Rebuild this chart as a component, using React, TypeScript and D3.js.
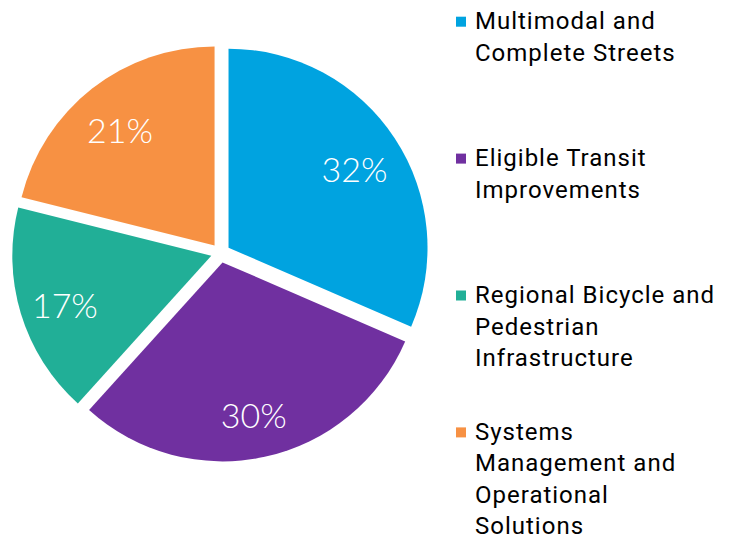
import React from "react";
import * as d3 from "d3";

const categories = [
  "Multimodal and Complete Streets",
  "Eligible Transit Improvements",
  "Regional Bicycle and Pedestrian Infrastructure",
  "Systems Management and Operational Solutions",
];
const legendLines = [
  ["Multimodal and", "Complete Streets"],
  ["Eligible Transit", "Improvements"],
  ["Regional Bicycle and", "Pedestrian", "Infrastructure"],
  ["Systems", "Management and", "Operational", "Solutions"],
];
const values = [31.5, 30.2, 17.2, 21.1];
const labels = ["32%", "30%", "17%", "21%"];
const colors = ["#00A3E0", "#7030A0", "#21AF97", "#F79143"];

const W = 733;
const H = 539;
const cx = 220.5;
const cy = 253;
const R = 199;
const explode = 9.6;
const labelR = 152;

export default function App() {
  const pie = d3
    .pie<number>()
    .sort(null)
    .value((d) => d)
    .startAngle(0)
    .endAngle(2 * Math.PI);
  const arcs = pie(values);
  const arcGen = d3.arc<d3.PieArcDatum<number>>().innerRadius(0).outerRadius(R);
  const labelArc = d3
    .arc<d3.PieArcDatum<number>>()
    .innerRadius(labelR)
    .outerRadius(labelR);

  const legendX = 456;
  const legendTextX = 475;
  const legendTop = 29.3;
  const itemGap = 136.9;
  const lineH = 31.4;

  return (
    <svg
      width={W}
      height={H}
      style={{ position: "absolute", left: 0, top: 0, background: "#fff" }}
    >
      <g transform={`translate(${cx},${cy})`}>
        {arcs.map((a, i) => {
          const mid = (a.startAngle + a.endAngle) / 2;
          const ox = Math.sin(mid) * explode;
          const oy = -Math.cos(mid) * explode;
          const [lx, ly] = labelArc.centroid(a);
          return (
            <g key={categories[i]} transform={`translate(${ox},${oy})`}>
              <path d={arcGen(a) || ""} fill={colors[i]} />
              <text
                x={lx - 1}
                y={ly + 4}
                textAnchor="middle"
                dominantBaseline="central"
                fill="#fff"
                fontFamily="Lato, sans-serif"
                fontWeight={300}
                fontSize={34}
              >
                {labels[i]}
              </text>
            </g>
          );
        })}
      </g>
      <g
        fontFamily="Roboto, 'Noto Sans', sans-serif"
        fontSize={24}
        letterSpacing={1}
        fill="#000"
      >
        {legendLines.map((lines, i) => {
          const base = legendTop + i * itemGap;
          return (
            <g key={categories[i]}>
              <rect x={legendX} y={base - 12.6} width={10} height={10} fill={colors[i]} />
              {lines.map((ln, j) => (
                <text key={j} x={legendTextX} y={base + j * lineH}>
                  {ln}
                </text>
              ))}
            </g>
          );
        })}
      </g>
    </svg>
  );
}
